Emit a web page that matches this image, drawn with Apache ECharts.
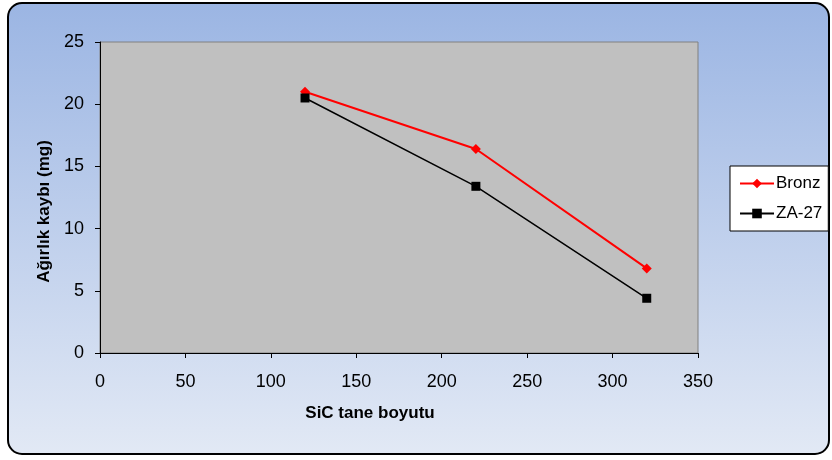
<!DOCTYPE html>
<html>
<head>
<meta charset="utf-8">
<style>
  html, body { margin: 0; padding: 0; background: #ffffff; }
  #chart { width: 832px; height: 460px; }
</style>
<script src="https://cdn.jsdelivr.net/npm/echarts@6/dist/echarts.min.js"></script>
</head>
<body>
<div id="chart"></div>
<script>
// SiC particle size vs. weight loss for two materials
const sicSizes = [120, 220, 320];
const bronzLoss = [21.0, 16.4, 6.8];
const za27Loss = [20.5, 13.4, 4.4];
const xTicks = [0, 50, 100, 150, 200, 250, 300, 350];
const yTicks = [0, 5, 10, 15, 20, 25];

const FONT = 'Liberation Sans, Arial, sans-serif';

const chart = echarts.init(document.getElementById('chart'), null, { renderer: 'canvas' });

const pairs = (xs, ys) => xs.map((x, i) => [x, ys[i]]);

chart.setOption({
  backgroundColor: '#ffffff',
  animation: false,
  graphic: [{
    type: 'rect',
    z: -10,
    silent: true,
    shape: { x: 8, y: 3, width: 821, height: 451, r: 14 },
    style: {
      fill: new echarts.graphic.LinearGradient(0, 0, 0, 1, [
        { offset: 0, color: '#9bb5e3' },
        { offset: 1, color: '#e2e9f5' }
      ]),
      stroke: '#000000',
      lineWidth: 2
    }
  }],
  grid: {
    left: 100, right: 134, top: 42, bottom: 107,
    show: true,
    backgroundColor: '#c0c0c0',
    borderColor: '#808080',
    borderWidth: 1
  },
  xAxis: {
    type: 'value',
    min: xTicks[0],
    max: xTicks[xTicks.length - 1],
    interval: 50,
    name: 'SiC tane boyutu',
    nameLocation: 'middle',
    nameGap: 52,
    nameTextStyle: { fontFamily: FONT, fontSize: 17, fontWeight: 'bold', color: '#000', padding: [0, 58, 0, 0] },
    axisLine: { show: true, lineStyle: { color: '#000', width: 1 } },
    axisTick: { show: true, length: 5, lineStyle: { color: '#000' } },
    axisLabel: { fontFamily: FONT, fontSize: 18, color: '#000', margin: 20 },
    splitLine: { show: false }
  },
  yAxis: {
    type: 'value',
    min: yTicks[0],
    max: yTicks[yTicks.length - 1],
    interval: 5,
    name: 'Ağırlık kaybı (mg)',
    nameLocation: 'middle',
    nameGap: 45,
    nameRotate: 90,
    nameTextStyle: { fontFamily: FONT, fontSize: 17, fontWeight: 'bold', color: '#000', padding: [0, 28, 0, 0] },
    axisLine: { show: true, lineStyle: { color: '#000', width: 1 } },
    axisTick: { show: true, length: 5, lineStyle: { color: '#000' } },
    axisLabel: { fontFamily: FONT, fontSize: 18, color: '#000', margin: 16 },
    splitLine: { show: false }
  },
  legend: {
    orient: 'vertical',
    left: 730,
    top: 166,
    padding: [9, 6, 9, 9],
    itemGap: 13,
    itemWidth: 34,
    itemHeight: 12,
    backgroundColor: '#ffffff',
    borderColor: '#000000',
    borderWidth: 1,
    borderRadius: 0,
    textStyle: { fontFamily: FONT, fontSize: 17, lineHeight: 17, color: '#000', padding: [0, 0, 0, -3] },
    data: ['Bronz', 'ZA-27']
  },
  series: [
    {
      name: 'Bronz',
      type: 'line',
      data: pairs(sicSizes, bronzLoss),
      symbol: 'diamond',
      symbolSize: 10,
      lineStyle: { color: '#ff0000', width: 2 },
      itemStyle: { color: '#ff0000' }
    },
    {
      name: 'ZA-27',
      type: 'line',
      data: pairs(sicSizes, za27Loss),
      symbol: 'rect',
      symbolSize: 9,
      lineStyle: { color: '#000000', width: 1.5 },
      itemStyle: { color: '#000000' }
    }
  ]
});
</script>
</body>
</html>
